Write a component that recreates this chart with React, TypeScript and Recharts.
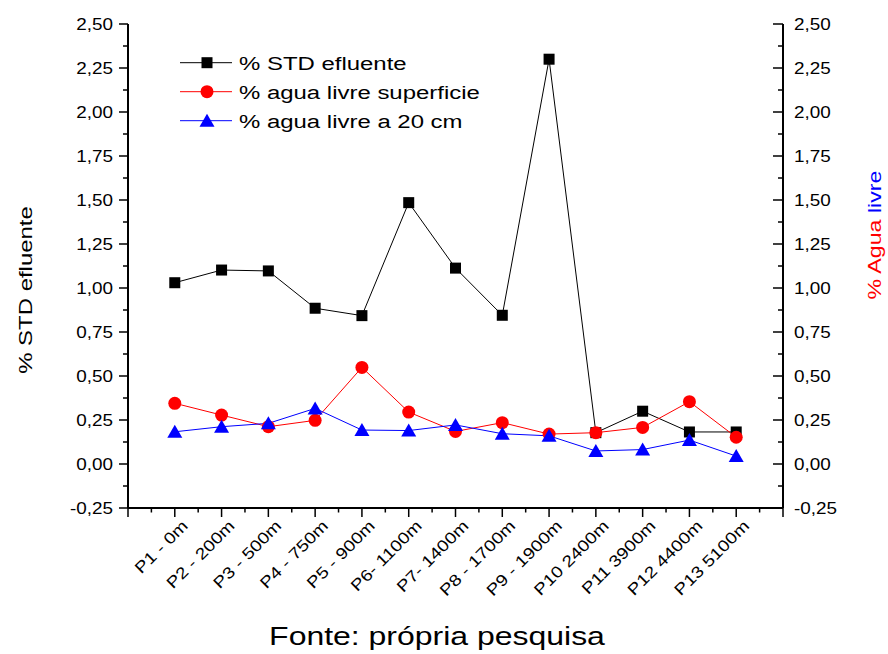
import React from 'react';
import { LineChart, Line, XAxis, YAxis } from 'recharts';

const categories = [
  'P1 - 0m', 'P2 - 200m', 'P3 - 500m', 'P4 - 750m', 'P5 - 900m', 'P6- 1100m',
  'P7- 1400m', 'P8 - 1700m', 'P9 - 1900m', 'P10 2400m', 'P11 3900m', 'P12 4400m', 'P13 5100m',
];
const stdEfluente = [1.03, 1.102, 1.097, 0.885, 0.843, 1.485, 1.113, 0.845, 2.3, 0.178, 0.3, 0.182, 0.182];
const aguaSuperficie = [0.345, 0.278, 0.212, 0.248, 0.549, 0.295, 0.185, 0.235, 0.17, 0.178, 0.208, 0.354, 0.152];
const agua20cm = [0.183, 0.212, 0.231, 0.316, 0.193, 0.19, 0.222, 0.172, 0.16, 0.074, 0.082, 0.136, 0.045];
const yMajorTicks = [-0.25, 0, 0.25, 0.5, 0.75, 1, 1.25, 1.5, 1.75, 2, 2.25, 2.5];
const legendLabels = ['% STD efluente', '% agua livre superficie', '% agua livre a 20 cm'];

const FONT = '"Liberation Sans", Arial, Helvetica, sans-serif';

const data = categories.map((c, i) => ({
  x: i + 1,
  name: c,
  std: stdEfluente[i],
  sup: aguaSuperficie[i],
  cm20: agua20cm[i],
}));

const yAllTicks = yMajorTicks.flatMap((v, i) => (i === 0 ? [v] : [(v + yMajorTicks[i - 1]) / 2, v]));
const isMajorY = (v: number) => yMajorTicks.some((m) => Math.abs(m - v) < 1e-9);
const xMax = categories.length + 1;
const xAllTicks: number[] = [];
for (let k = 0; k <= xMax * 2; k++) xAllTicks.push(k / 2);

const fmt = (v: number) => v.toFixed(2).replace('.', ',');

function SText(props: any) {
  const { x, y, angle = 0, sx = 1.2, size = 16, anchor = 'start', fill = '#000', children } = props;
  return (
    <text
      transform={`translate(${x},${y}) rotate(${angle}) scale(${sx},1)`}
      x={0}
      y={0}
      textAnchor={anchor}
      fontSize={size}
      fontFamily={FONT}
      fill={fill}
    >
      {children}
    </text>
  );
}

const LeftTick = (props: any) => {
  const { x, y, payload } = props;
  const v = payload.value;
  const major = isMajorY(v);
  return (
    <g>
      <line x1={x} x2={x - (major ? 9 : 5)} y1={y} y2={y} stroke="#000" strokeWidth={1.5} />
      {major && (
        <SText x={x - 15} y={y + 5.8} anchor="end" size={16} sx={1.18}>
          {fmt(v)}
        </SText>
      )}
    </g>
  );
};

const RightTick = (props: any) => {
  const { x, y, payload } = props;
  const v = payload.value;
  const major = isMajorY(v);
  return (
    <g>
      <line x1={x} x2={x - (major ? 10 : 5)} y1={y} y2={y} stroke="#000" strokeWidth={1.5} />
      {major && (
        <SText x={x + 11} y={y + 5.8} anchor="start" size={16} sx={1.18}>
          {fmt(v)}
        </SText>
      )}
    </g>
  );
};

const BottomTick = (props: any) => {
  const { x, y, payload } = props;
  const v = payload.value;
  const major = Math.abs(v - Math.round(v)) < 1e-9;
  const idx = Math.round(v) - 1;
  const label = major && idx >= 0 && idx < categories.length ? categories[idx] : null;
  return (
    <g>
      <line x1={x} x2={x} y1={y} y2={y + (major ? 9 : 4.5)} stroke="#000" strokeWidth={1.5} />
      {label && (
        <SText x={x + 14} y={y + 19} angle={-45} anchor="end" size={16} sx={1.2}>
          {label}
        </SText>
      )}
    </g>
  );
};

const SquareDot = (p: any) => (
  <rect key={`s${p.index}`} x={p.cx - 5.5} y={p.cy - 5.5} width={11} height={11} fill="#000" />
);
const CircleDot = (p: any) => <circle key={`c${p.index}`} cx={p.cx} cy={p.cy} r={6.5} fill="#ff0000" />;
const TriDot = (p: any) => (
  <path
    key={`t${p.index}`}
    d={`M${p.cx},${p.cy - 7} L${p.cx + 7.5},${p.cy + 6} L${p.cx - 7.5},${p.cy + 6} Z`}
    fill="#0000ff"
  />
);

export default function App() {
  const legendRows = [
    { label: legendLabels[0], color: '#000000', y: 62.7, kind: 'square' },
    { label: legendLabels[1], color: '#ff0000', y: 91.7, kind: 'circle' },
    { label: legendLabels[2], color: '#0000ff', y: 120.7, kind: 'tri' },
  ];
  return (
    <div style={{ position: 'absolute', left: 0, top: 0, width: 888, height: 654, background: '#fff' }}>
      <LineChart
        width={888}
        height={654}
        data={data}
        margin={{ top: 24, right: 104, bottom: 145, left: 127 }}
      >
        <XAxis
          dataKey="x"
          type="number"
          domain={[0, xMax]}
          ticks={xAllTicks}
          interval={0}
          height={1}
          tickSize={0}
          tickMargin={0}
          tickLine={false}
          tick={<BottomTick />}
          axisLine={{ stroke: '#000', strokeWidth: 2 }}
          allowDataOverflow
        />
        <YAxis
          yAxisId="left"
          orientation="left"
          type="number"
          domain={[-0.25, 2.5]}
          ticks={yAllTicks}
          interval={0}
          width={1}
          tickSize={0}
          tickMargin={0}
          tickLine={false}
          tick={<LeftTick />}
          axisLine={{ stroke: '#000', strokeWidth: 2 }}
          allowDataOverflow
        />
        <YAxis
          yAxisId="right"
          orientation="right"
          type="number"
          domain={[-0.25, 2.5]}
          ticks={yAllTicks}
          interval={0}
          width={1}
          tickSize={0}
          tickMargin={0}
          tickLine={false}
          tick={<RightTick />}
          axisLine={{ stroke: '#000', strokeWidth: 2 }}
          allowDataOverflow
        />
        <Line
          yAxisId="left"
          dataKey="std"
          stroke="#000000"
          strokeWidth={1}
          dot={SquareDot}
          activeDot={false}
          isAnimationActive={false}
        />
        <Line
          yAxisId="left"
          dataKey="sup"
          stroke="#ff0000"
          strokeWidth={1}
          dot={CircleDot}
          activeDot={false}
          isAnimationActive={false}
        />
        <Line
          yAxisId="left"
          dataKey="cm20"
          stroke="#0000ff"
          strokeWidth={1}
          dot={TriDot}
          activeDot={false}
          isAnimationActive={false}
        />
      </LineChart>
      <svg
        width={888}
        height={654}
        style={{ position: 'absolute', left: 0, top: 0, pointerEvents: 'none' }}
      >
        {legendRows.map((r) => (
          <g key={r.label}>
            <line x1={180} x2={232} y1={r.y} y2={r.y} stroke={r.color} strokeWidth={1} />
            {r.kind === 'square' && <rect x={201.5} y={r.y - 5.5} width={11} height={11} fill={r.color} />}
            {r.kind === 'circle' && <circle cx={207} cy={r.y} r={6.5} fill={r.color} />}
            {r.kind === 'tri' && (
              <path d={`M207,${r.y - 7} L214.5,${r.y + 6} L199.5,${r.y + 6} Z`} fill={r.color} />
            )}
            <SText x={239} y={r.y + 6.8} size={19} sx={1.26}>
              {r.label}
            </SText>
          </g>
        ))}
        <SText x={32} y={290} angle={-90} anchor="middle" size={19} sx={1.26}>
          % STD efluente
        </SText>
        <text
          transform={`translate(881,235) rotate(-90) scale(1.22,1)`}
          textAnchor="middle"
          fontSize={19}
          fontFamily={FONT}
        >
          <tspan fill="#ff0000">% Agua </tspan>
          <tspan fill="#0000ff">livre</tspan>
        </text>
        <SText x={437} y={645} anchor="middle" size={26} sx={1.23}>
          Fonte: própria pesquisa
        </SText>
      </svg>
    </div>
  );
}
